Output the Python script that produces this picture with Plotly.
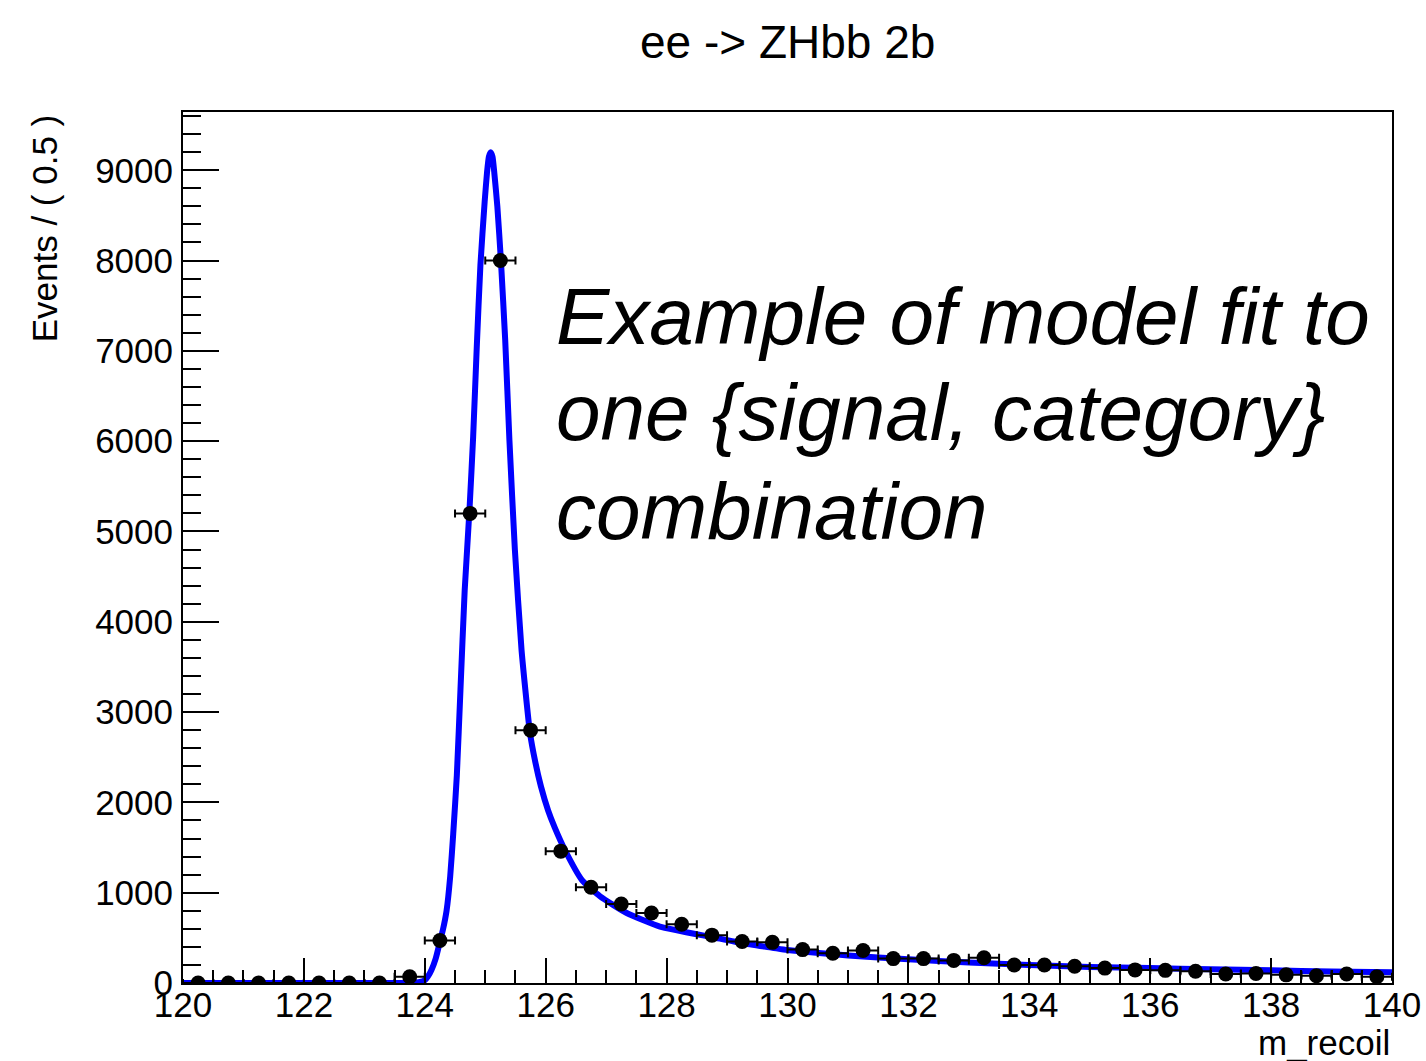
import plotly.graph_objects as go

# Binned data: m_recoil bin centres (bin width 0.5) and event counts
bin_centers = [120.25, 120.75, 121.25, 121.75, 122.25, 122.75, 123.25, 123.75,
               124.25, 124.75, 125.25, 125.75, 126.25, 126.75, 127.25, 127.75,
               128.25, 128.75, 129.25, 129.75, 130.25, 130.75, 131.25, 131.75,
               132.25, 132.75, 133.25, 133.75, 134.25, 134.75, 135.25, 135.75,
               136.25, 136.75, 137.25, 137.75, 138.25, 138.75, 139.25, 139.75]
events = [0, 0, 0, 0, 0, 0, 0, 70,
          470, 5200, 8000, 2800, 1460, 1060, 875, 775,
          650, 530, 460, 450, 370, 330, 360, 270,
          270, 250, 280, 200, 200, 185, 165, 145,
          140, 130, 100, 105, 90, 80, 100, 70]
half_bin = [0.25] * len(bin_centers)

# Fitted model curve sampled along m_recoil
fit_x = [120.0, 123.0, 123.6, 123.8, 123.9, 124.0, 124.05, 124.11, 124.18, 124.24,
         124.30, 124.36, 124.42, 124.47, 124.53, 124.59, 124.66, 124.74, 124.80, 124.86,
         124.92, 124.99, 125.03, 125.06, 125.09, 125.12, 125.15, 125.20, 125.26, 125.33,
         125.40, 125.49, 125.60, 125.74, 125.83, 125.92, 126.04, 126.15, 126.32, 126.60,
         126.90, 127.34, 127.89, 128.77, 129.26, 129.75, 130.0, 131.0, 132.0, 133.0,
         134.0, 135.0, 136.0, 137.0, 138.0, 139.0, 140.0]
fit_y = [0, 0, 1, 4, 10, 30, 70, 144, 270, 430,
         590, 800, 1180, 1650, 2300, 3250, 4350, 5250, 6050, 7050,
         7950, 8650, 8980, 9150, 9200, 9150, 8970, 8600, 7990, 7120,
         6010, 4800, 3690, 2770, 2440, 2180, 1910, 1720, 1470, 1140,
         960, 775, 625, 506, 440, 391, 365, 305, 262, 228,
         199, 178, 165, 152, 140, 128, 118]

FONT = "Liberation Sans, Arial, Helvetica, sans-serif"

fig = go.Figure()

fig.add_trace(go.Scatter(
    x=fit_x, y=fit_y, mode="lines",
    line=dict(color="#0000ff", width=6, shape="spline", smoothing=0.5),
    hoverinfo="skip", showlegend=False,
))

fig.add_trace(go.Scatter(
    x=bin_centers, y=events, mode="markers",
    marker=dict(color="black", size=15),
    error_x=dict(type="data", array=half_bin, color="black", thickness=2, width=4),
    showlegend=False,
))

fig.update_layout(
    width=1426, height=1061,
    margin=dict(l=183, r=34, t=112, b=78, autoexpand=False),
    plot_bgcolor="white", paper_bgcolor="white",
    font=dict(family=FONT, size=35, color="black"),
    xaxis=dict(
        range=[120, 140], dtick=2, tick0=120,
        ticks="inside", ticklen=25, tickwidth=2, tickcolor="black",
        minor=dict(dtick=0.5, ticks="inside", ticklen=13, tickwidth=2, tickcolor="black"),
        showline=True, linecolor="black", linewidth=2, mirror=True,
        showgrid=False, zeroline=False, automargin=False,
        tickfont=dict(family=FONT, size=35),
        ticklabelstandoff=-10,
    ),
    yaxis=dict(
        range=[0, 9645], dtick=1000, tick0=0,
        ticks="inside", ticklen=36, tickwidth=2, tickcolor="black",
        minor=dict(dtick=200, ticks="inside", ticklen=18, tickwidth=2, tickcolor="black"),
        showline=True, linecolor="black", linewidth=2, mirror=True,
        showgrid=False, zeroline=False, automargin=False,
        tickfont=dict(family=FONT, size=35),
        ticklabelstandoff=1,
    ),
)

annotations = [
    dict(text="ee -> ZHbb 2b", x=0.5, y=1.0804, xref="paper", yref="paper",
         xanchor="center", yanchor="middle", showarrow=False,
         font=dict(family=FONT, size=46)),
    dict(text="m_recoil", x=1.0, y=-0.068, xref="paper", yref="paper",
         xanchor="right", yanchor="middle", showarrow=False,
         font=dict(family=FONT, size=35)),
    dict(text="Events / ( 0.5 )", x=-0.1147, y=1.0, xref="paper", yref="paper",
         xanchor="center", yanchor="top", textangle=-90, showarrow=False,
         font=dict(family=FONT, size=35)),
]

note_lines = ["Example of model fit to", "one {signal, category}", "combination"]
note_pixel_y = [316, 413, 512]
for line, py in zip(note_lines, note_pixel_y):
    annotations.append(dict(
        text=line, x=(554 - 183) / 1209, y=(983 - py) / 871,
        xref="paper", yref="paper", xanchor="left", yanchor="middle",
        showarrow=False,
        font=dict(family=FONT, size=80, style="italic"),
    ))

fig.update_layout(annotations=annotations)

fig.write_html("out.html")
